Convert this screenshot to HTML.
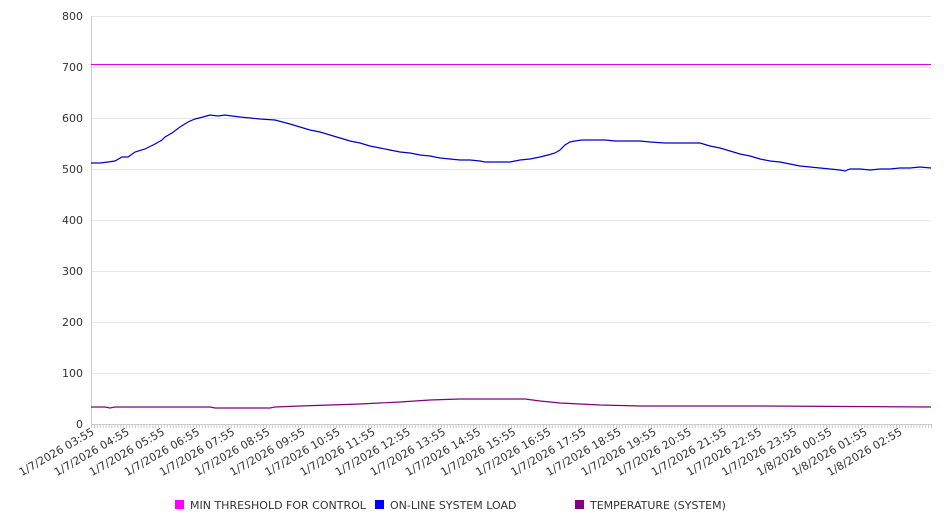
<!DOCTYPE html>
<html><head><style>
body{margin:0;background:#fff;font-family:"DejaVu Sans","Liberation Sans",sans-serif}
</style></head><body>
<svg width="946" height="526" xmlns="http://www.w3.org/2000/svg" font-family="DejaVu Sans, Liberation Sans, sans-serif" font-size="11" fill="#333">
<g stroke="#e8e8e8" stroke-width="1">
<line x1="91" y1="16.5" x2="931" y2="16.5"/><line x1="91" y1="67.5" x2="931" y2="67.5"/>
<line x1="91" y1="118.5" x2="931" y2="118.5"/><line x1="91" y1="169.5" x2="931" y2="169.5"/>
<line x1="91" y1="220.5" x2="931" y2="220.5"/><line x1="91" y1="271.5" x2="931" y2="271.5"/>
<line x1="91" y1="322.5" x2="931" y2="322.5"/><line x1="91" y1="373.5" x2="931" y2="373.5"/>
</g>
<line x1="91.5" y1="16" x2="91.5" y2="424" stroke="#ccc"/>
<line x1="91" y1="424.5" x2="931" y2="424.5" stroke="#ccc"/>
<g text-anchor="end">
<text x="83" y="20">800</text><text x="83" y="71">700</text><text x="83" y="122">600</text>
<text x="83" y="173">500</text><text x="83" y="224">400</text><text x="83" y="275">300</text>
<text x="83" y="326">200</text><text x="83" y="377">100</text><text x="83" y="428">0</text>
</g>
<path id="ticks" stroke="#ccc" stroke-width="1" d=""/>
<script>
var d="";for(var i=0;i<=288;i++){var x=91.5+i*840/288;d+="M"+x.toFixed(1)+" 424V428";}
document.getElementById("ticks").setAttribute("d",d);
</script>
<g text-anchor="end">
<text transform="translate(95,434) rotate(-30)">1/7/2026 03:55</text>
<text transform="translate(130.1,434) rotate(-30)">1/7/2026 04:55</text>
<text transform="translate(165.3,434) rotate(-30)">1/7/2026 05:55</text>
<text transform="translate(200.4,434) rotate(-30)">1/7/2026 06:55</text>
<text transform="translate(235.5,434) rotate(-30)">1/7/2026 07:55</text>
<text transform="translate(270.7,434) rotate(-30)">1/7/2026 08:55</text>
<text transform="translate(305.8,434) rotate(-30)">1/7/2026 09:55</text>
<text transform="translate(340.9,434) rotate(-30)">1/7/2026 10:55</text>
<text transform="translate(376,434) rotate(-30)">1/7/2026 11:55</text>
<text transform="translate(411.2,434) rotate(-30)">1/7/2026 12:55</text>
<text transform="translate(446.3,434) rotate(-30)">1/7/2026 13:55</text>
<text transform="translate(481.4,434) rotate(-30)">1/7/2026 14:55</text>
<text transform="translate(516.6,434) rotate(-30)">1/7/2026 15:55</text>
<text transform="translate(551.7,434) rotate(-30)">1/7/2026 16:55</text>
<text transform="translate(586.8,434) rotate(-30)">1/7/2026 17:55</text>
<text transform="translate(622,434) rotate(-30)">1/7/2026 18:55</text>
<text transform="translate(657.1,434) rotate(-30)">1/7/2026 19:55</text>
<text transform="translate(692.2,434) rotate(-30)">1/7/2026 20:55</text>
<text transform="translate(727.3,434) rotate(-30)">1/7/2026 21:55</text>
<text transform="translate(762.5,434) rotate(-30)">1/7/2026 22:55</text>
<text transform="translate(797.6,434) rotate(-30)">1/7/2026 23:55</text>
<text transform="translate(832.7,434) rotate(-30)">1/8/2026 00:55</text>
<text transform="translate(867.9,434) rotate(-30)">1/8/2026 01:55</text>
<text transform="translate(903,434) rotate(-30)">1/8/2026 02:55</text>
</g>
<line x1="91" y1="64.5" x2="931" y2="64.5" stroke="#e000e0" stroke-width="1"/>
<polyline fill="none" stroke="#0000cc" stroke-width="1.2" points="91,163 100,163 108,162 115,161 122,157 128,157 135,152 145,149 155,144 162,140 165,137 172,133 180,127 188,122 195,119 203,117 210,115 218,116 225,115 232,116 240,117 250,118 260,119 275,120 290,124 300,127 310,130 320,132 330,135 340,138 350,141 360,143 370,146 380,148 390,150 400,152 410,153 420,155 430,156 440,158 450,159 460,160 470,160 480,161 485,162 500,162 510,162 515,161 520,160 530,159 540,157 548,155 555,153 560,150 565,145 570,142 575,141 582,140 590,140 600,140 605,140 615,141 630,141 640,141 650,142 665,143 680,143 700,143 710,146 720,148 730,151 740,154 750,156 760,159 770,161 780,162 790,164 800,166 810,167 820,168 830,169 840,170 845,171 850,169 860,169 870,170 880,169 890,169 900,168 910,168 920,167 931,168"/>
<polyline fill="none" stroke="#800080" stroke-width="1.2" points="91,407 105,407 110,408 115,407 150,407 210,407 215,408 270,408 275,407 300,406 330,405 360,404 400,402 430,400 460,399 500,399 525,399 540,401 560,403 580,404 600,405 640,406 760,406 931,407"/>
<rect x="175" y="500" width="9" height="9" fill="#ff00ff"/>
<text x="190" y="509">MIN THRESHOLD FOR CONTROL</text>
<rect x="375" y="500" width="9" height="9" fill="#0000ff"/>
<text x="390" y="509">ON-LINE SYSTEM LOAD</text>
<rect x="575" y="500" width="9" height="9" fill="#800080"/>
<text x="590" y="509">TEMPERATURE (SYSTEM)</text>
</svg>
</body></html>
